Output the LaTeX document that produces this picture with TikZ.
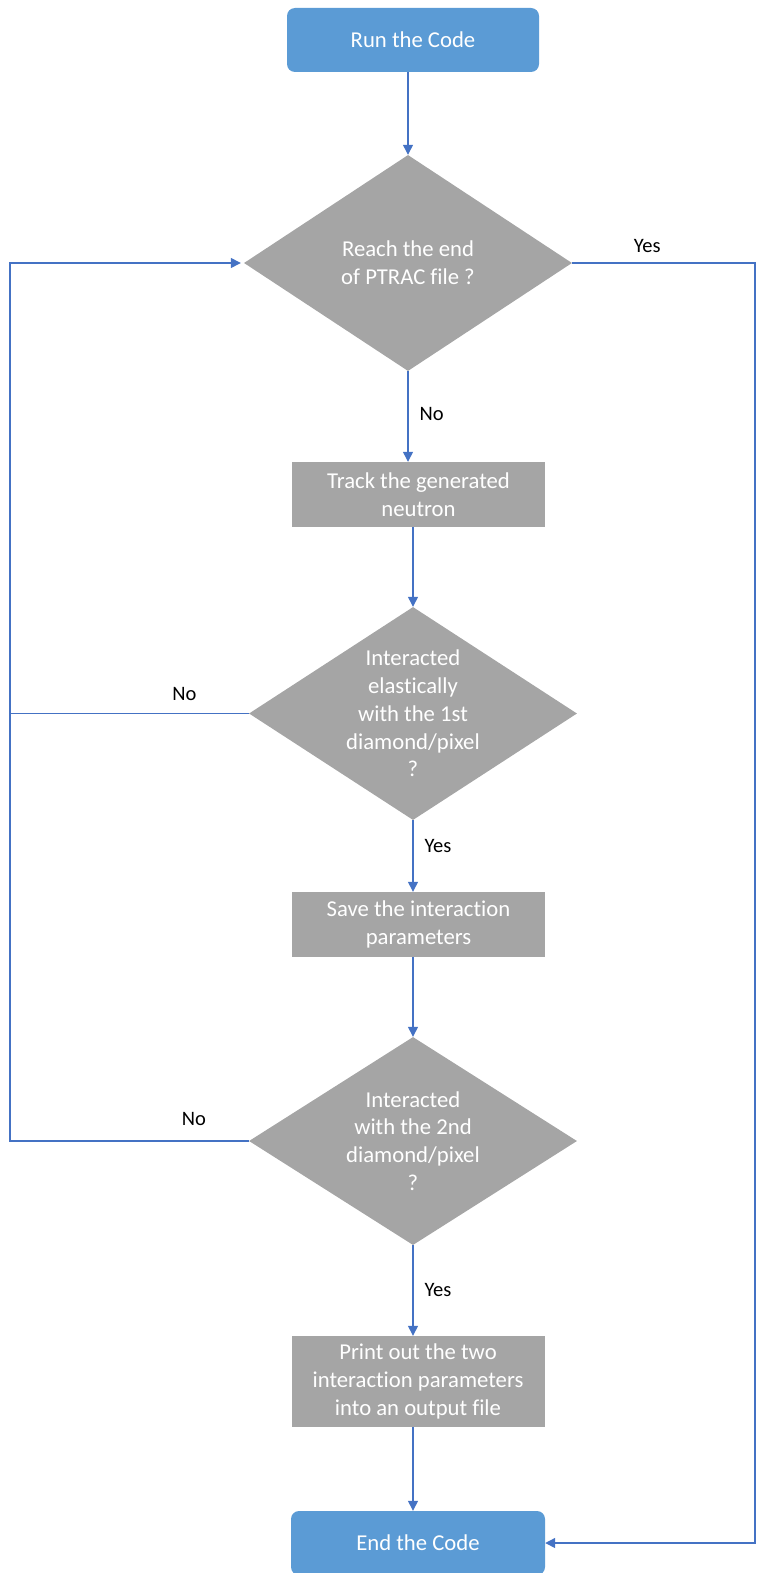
\documentclass[tikz,border=0pt]{standalone}
\usepackage{fontspec}
\setmainfont{Carlito}[Ligatures={NoCommon,NoContextual}]
\usetikzlibrary{arrows.meta,shapes.geometric}
\definecolor{termblue}{HTML}{5B9BD5}
\definecolor{stepgray}{HTML}{A5A5A5}
\definecolor{flowline}{HTML}{4472C4}

\begin{document}
\begin{tikzpicture}[x=1pt,y=-1pt,>={Triangle[length=10pt,width=10pt]}]
\tikzstyle{term} = [rectangle,rounded corners=8pt,fill=termblue,text=white,font=\fontsize{22.7}{27.7}\selectfont,minimum width=252pt,minimum height=64pt,inner sep=0pt]
\tikzstyle{proc} = [rectangle,fill=stepgray,text=white,font=\fontsize{22.7}{27.7}\selectfont,minimum width=253pt,minimum height=65pt,inner sep=0pt,align=center]
\tikzstyle{dec} = [diamond,fill=stepgray,minimum width=328pt,minimum height=214pt,inner sep=0pt]
\tikzstyle{dectxt} = [text=white,font=\fontsize{22.7}{27.7}\selectfont,align=center,inner sep=0pt]
\tikzstyle{ann} = [font=\fontsize{20.5}{24}\selectfont,inner sep=1pt]
\tikzstyle{flow} = [draw=flowline,line width=1.3pt]

\useasboundingbox (0,0) rectangle (756,1573);

%%%%%% Blocos
\node[term] (start) at (413,40) {Run the Code};
\node[dec,minimum height=216pt,label={[dectxt]center:{Reach the end\\of PTRAC file ?}}] (d1) at (408,263) {};
\node[proc] (track) at (418.5,494.5) {Track the generated\\neutron};
\node[dec,minimum height=213pt,label={[dectxt]center:{Interacted\\elastically\\with the 1st\\diamond/pixel\\?}}] (d2) at (413,713.5) {};
\node[proc] (save) at (418.5,924.5) {Save the interaction\\parameters};
\node[dec,minimum height=208pt,label={[dectxt]center:{Interacted\\with the 2nd\\diamond/pixel\\?}}] (d3) at (413,1141) {};
\node[proc,minimum height=91pt] (print) at (418,1381.5) {Print out the two\\interaction parameters\\into an output file};
\node[term,minimum width=254pt] (end) at (418,1543) {End the Code};

%%%%%% Bordas
\coordinate (lft) at (10,0);
\coordinate (rgt) at (755,0);

%%%%%% Setas
\draw[flow,->] (d1.north |- start.south) -- (d1.north);
\draw[flow,->] (d1.south) -- node[ann,right=10pt,pos=0.47] {No} (d1.south |- track.north);
\draw[flow,->] (track.south -| d2.north) -- (d2.north);
\draw[flow,->] (d2.south) -- node[ann,right=10pt,pos=0.36] {Yes} (d2.south |- save.north);
\draw[flow,->] (save.south -| d3.north) -- (d3.north);
\draw[flow,->] (d3.south) -- node[ann,right=10pt,pos=0.49] {Yes} (d3.south |- print.north);
\draw[flow,->] (print.south -| d3.south) -- (end.north -| d3.south);

%%%%%% Laco Yes (direita)
\draw[flow,->] (d1.east) -- node[ann,above=9pt,pos=0.41] {Yes} (d1.east -| rgt) -- (end.east -| rgt) -- (end.east);

%%%%%% Laco No (esquerda)
\draw[flow,->,shorten >=3pt] (d3.west) -- node[ann,above=14pt,pos=0.23] {No} (d3.west -| lft) -- (d1.west -| lft) -- (d1.west);
\draw[flow] (d2.west) -- node[ann,above=11pt,pos=0.27] {No} (d2.west -| lft);
\end{tikzpicture}
\end{document}
